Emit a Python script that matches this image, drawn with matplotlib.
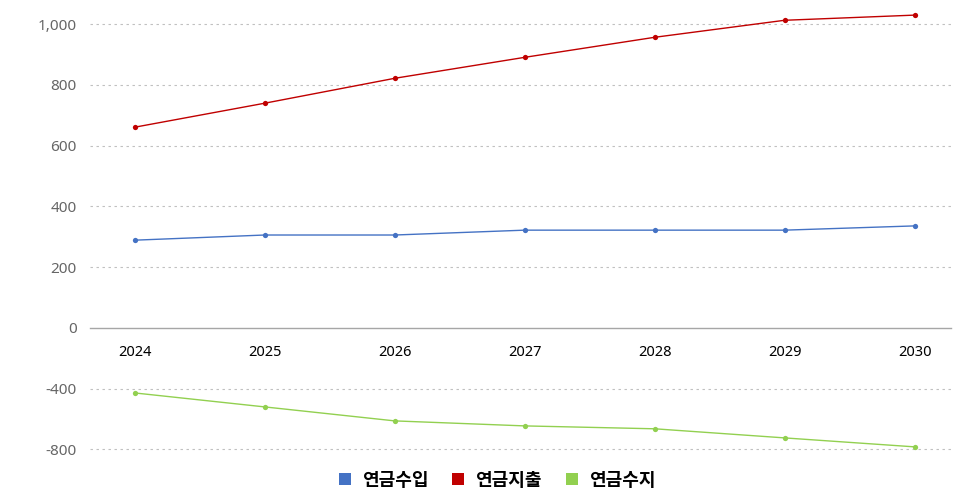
import matplotlib
matplotlib.use("Agg")
import matplotlib.pyplot as plt
import numpy as np
from matplotlib.lines import Line2D
from matplotlib.ticker import FixedLocator, FuncFormatter

plt.rcParams['font.family'] = ['Noto Sans CJK KR', 'DejaVu Sans']

years = ['2024', '2025', '2026', '2027', '2028', '2029', '2030']
income = [289, 306, 306, 322, 322, 322, 336]          # 연금수입
expenditure = [661, 740, 822, 891, 957, 1013, 1030]   # 연금지출
balance = [-428, -520, -612, -645, -664, -724, -783]  # 연금수지
series_names = ['연금수입', '연금지출', '연금수지']
colors = ['#4472C4', '#C00000', '#92D050']
ytick_values = [1000, 800, 600, 400, 200, 0, -400, -800]


def fwd(y):
    y = np.asarray(y, dtype=float)
    return np.where(y >= 0, y, y / 2.0)


def inv(y):
    y = np.asarray(y, dtype=float)
    return np.where(y >= 0, y, y * 2.0)


fig = plt.figure(figsize=(9.7, 5.0), dpi=100)
ax = fig.add_axes([90 / 970, 0.092, (951 - 90) / 970, 0.988 - 0.092])
ax.set_yscale('function', functions=(fwd, inv))

x = np.arange(len(years))
for vals, c in zip([income, expenditure, balance], colors):
    ax.plot(x, vals, color=c, lw=1.0, marker='o', markersize=3.8,
            markeredgewidth=0, zorder=3)

ax.set_xlim(-0.345, 6.28)
ax.set_ylim(-830, 1060)

ax.yaxis.set_major_locator(FixedLocator(ytick_values))
ax.yaxis.set_major_formatter(FuncFormatter(lambda v, p: f"{int(v):,}"))
for v in ytick_values:
    if v != 0:
        ax.axhline(v, color='#C0C0C0', lw=0.8, ls=(0, (2.2, 3.2)), zorder=1)

for s in ['top', 'right', 'left']:
    ax.spines[s].set_visible(False)
ax.spines['bottom'].set_position(('data', 0))
ax.spines['bottom'].set_color('#A6A6A6')
ax.spines['bottom'].set_linewidth(1.0)

ax.set_xticks(x)
ax.set_xticklabels(years, fontsize=10.5, color='#000000', family=['Noto Sans', 'DejaVu Sans'])
ax.tick_params(axis='x', length=0, pad=12.5)
ax.tick_params(axis='y', length=0, pad=9.5, labelsize=11, labelcolor='#666666')
for lab in ax.get_yticklabels():
    lab.set_family(['Noto Sans', 'DejaVu Sans'])

handles = [Line2D([], [], ls='none', marker='s', markersize=9, color=c,
                  markeredgewidth=0) for c in colors]
fig.legend(handles, series_names, loc='center', bbox_to_anchor=(0.5 + 12 / 970, 1 - 480 / 500),
           ncol=3, frameon=False, handletextpad=0.6, columnspacing=1.3,
           prop={'family': 'Noto Sans CJK KR', 'weight': 'bold', 'size': 13},
           handlelength=0.7)

fig.savefig('out.png', dpi=100)
